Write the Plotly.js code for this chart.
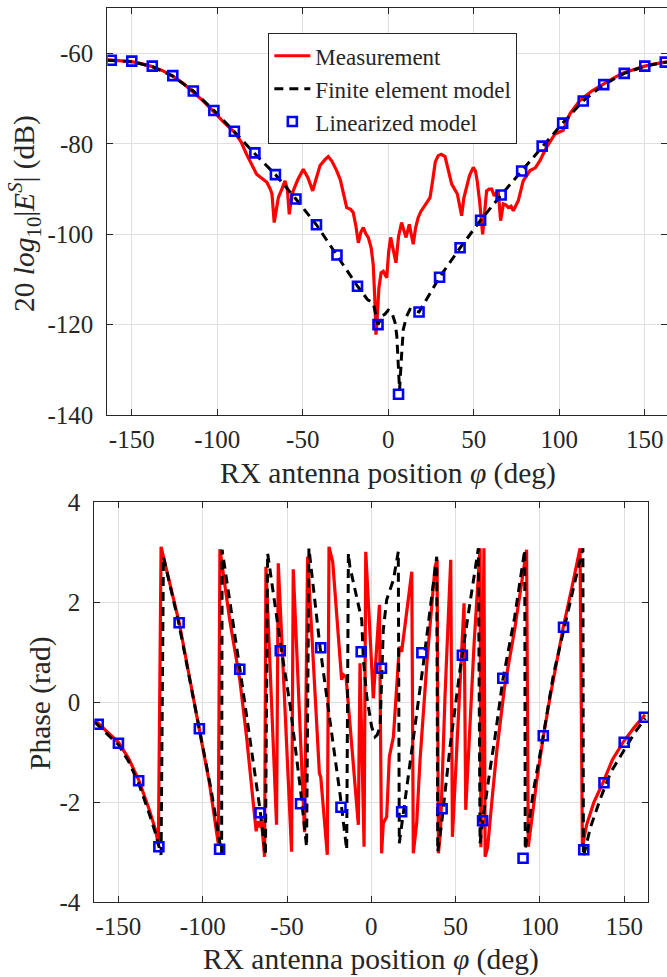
<!DOCTYPE html>
<html><head><meta charset="utf-8">
<script src="https://cdn.plot.ly/plotly-3.0.1.min.js"></script>
<style>html,body{margin:0;padding:0;background:#fff}#chart{width:667px;height:977px}</style>
</head><body><div id="chart"></div>
<script>
// ---------- Top panel: magnitude (dB) ----------
const magMeasX = [-164,-158,-150,-144,-138,-132,-126,-120,-114,-108,-102,-96,-90,-86,-83,-80,-77,-74,-71,-69,-68,-66.7,-65.5,-64.3,-62,-60.4,-59,-57.9,-56.8,-55.6,-53,-49.7,-47,-44.2,-42,-39.9,-37,-35.1,-33,-30.2,-28,-26.3,-24.3,-22,-20.5,-19,-17.5,-16,-14.6,-13,-11.7,-10,-8.8,-7.9,-7.2,-6.4,-5.5,-4.2,-2.9,-0.9,0.2,1.4,3,4.5,6,7.8,9,10.4,12.3,13.5,14.6,16,17.5,19,20.5,22.5,24.4,26,27.5,29.2,31,33.2,35,37.1,40.4,41.8,42.9,44.2,45.8,47.5,49.7,51,52,53.5,55.2,56.3,57.5,59,60.5,62,64.3,65.7,67.3,68.8,70.2,71.8,73.1,76,78.9,82.9,86,88.7,92.6,97.5,100,102.3,106.3,112.1,119,125.7,132,137.4,144,150,156,164];
const magMeasY = [-61.4,-61.6,-61.8,-62.3,-62.9,-63.8,-65.0,-66.6,-68.5,-70.6,-72.9,-75.3,-77.4,-79.6,-82.2,-84.5,-86.7,-87.6,-88.5,-90.0,-91.1,-97.4,-94,-91.9,-89.8,-88.2,-90,-95.6,-92.5,-90.4,-88,-85.6,-87.5,-90.4,-87.5,-84.8,-83.5,-82.8,-83.8,-85.9,-88,-91.1,-94.1,-94.5,-95.2,-98,-101.9,-99.5,-98.5,-100,-100.7,-103,-106.7,-114,-122.2,-118,-112,-108.5,-108.2,-109.6,-104,-100.7,-103.5,-106.3,-100.5,-97.4,-99,-100.7,-97.8,-100,-102.2,-98.5,-96.3,-95,-94.1,-92.8,-91.9,-88,-84,-82.6,-82.3,-82.8,-85.5,-88.9,-91.1,-94,-95.9,-92,-89.6,-87,-85.2,-86,-88.2,-93,-100,-95,-90.4,-90,-90,-91.5,-90.4,-97,-93.3,-93.5,-94.1,-93.8,-94.8,-92.6,-88.2,-85.9,-85.3,-83.7,-80.7,-77.8,-77.4,-77,-73.3,-70.4,-68.3,-66.7,-65.4,-64.3,-63.5,-62.8,-62.3,-61.8];

const magFemX = [-164,-150,-138,-126,-114,-102,-90,-78,-66,-54,-42,-30,-18,-12,-8.8,-6,-3.5,-2,0,2,4,5,6,6.6,7.8,8.8,10.7,12.7,18,30,42,54,66,78,90,102,114,126,138,150,164];
const magFemY = [-61.5,-61.8,-62.9,-65.0,-68.3,-72.6,-77.3,-82.2,-86.8,-92.2,-97.9,-104.6,-111.5,-114.5,-115.2,-120,-118,-117.7,-116.8,-117.2,-119.6,-122.5,-129,-134.5,-126.7,-121,-118.2,-116.6,-117.2,-109.5,-103,-96.9,-91.3,-86,-80.5,-75.4,-70.5,-66.9,-64.4,-62.8,-61.8];

const linX = [-162,-150,-138,-126,-114,-102,-90,-78,-66,-54,-42,-30,-18,-6,6,18,30,42,54,66,78,90,102,114,126,138,150,162];
const magLinY = [-61.5,-61.7,-62.8,-64.9,-68.3,-72.6,-77.2,-82.0,-86.8,-92.2,-97.9,-104.6,-111.5,-120.0,-135.4,-117.2,-109.5,-103.0,-96.9,-91.3,-86.0,-80.5,-75.4,-70.5,-66.9,-64.4,-62.8,-61.9];

// ---------- Bottom panel: phase (rad) ----------
const phMeasX = [-164,-157,-150,-144,-138,-132,-128,-126.3,-124.7,-114,-102,-96,-90.8,-89.8,-84,-78,-74,-71,-69.2,-68.3,-67.3,-66.2,-65.2,-63.3,-62.5,-56.2,-55.2,-47.3,-46.3,-39.6,-37.8,-30.8,-30.0,-26.1,-25.1,-22.9,-17.6,-16.5,-15.0,-7.7,-6.7,-4.3,-3.3,1.2,4.8,6.1,7.1,9.1,10.7,13.1,16.6,18.0,24.0,24.9,26.9,28.9,33,37.8,39.0,39.8,41.0,43.7,47.1,48.1,55.0,56.0,61,64.5,65.0,66.8,67.5,69,72,74.5,79,85,92.1,93.1,98,102,106,113.9,119,123.8,125.2,127.7,132,137.6,143,149.5,156,162.3];
const phMeasY = [-0.36,-0.58,-0.80,-1.12,-1.55,-2.12,-2.55,-2.85,3.11,1.60,-0.50,-1.62,-2.82,3.06,1.65,0.45,-0.69,-1.7,-2.35,-2.58,-2.38,-2.5,-2.35,-3.09,2.71,-2.45,2.78,-2.99,2.66,-2.6,2.91,-1.42,-1.49,-3.05,3.11,2.81,0.45,0.55,0.51,-2.45,0.78,-2.89,3.01,0.08,1.95,-3.02,-2.42,-2.29,-1.09,-0.69,1.11,1.01,2.61,-3.02,-2.42,-1.15,0.8,2.71,2.85,-3.02,-2.6,0.11,2.85,-2.69,1.98,-2.15,1.2,3.08,-2.9,3.08,-3.09,-2.9,-1.8,-0.95,0.3,1.45,3.05,-2.89,-1.6,-0.69,0.1,1.51,2.3,3.08,-2.89,-2.45,-2.0,-1.59,-1.15,-0.79,-0.5,-0.25];

const phFemX = [-164,-157,-150,-144,-138,-132,-128,-124.7,-123.3,-114,-102,-95,-88.8,-88.5,-78,-72,-66,-62.8,-61.5,-54,-48,-42,-38.4,-37.0,-30.4,-24,-18.5,-14.6,-13.6,-12.7,-8.7,-5.7,-4.7,-2.7,0.2,2.2,3.5,5.2,7.1,9.1,13.1,16.0,16.6,23,26.9,30.9,35.8,38.8,39.4,41.7,46.7,52.6,58.5,63.5,64.5,66.4,70.4,73.4,78,85,91.0,91.3,96,102,108,114,120,125.5,125.8,130,135.6,142,150,156,162.5];
const phFemY = [-0.40,-0.62,-0.85,-1.18,-1.62,-2.2,-2.62,-3.05,2.91,1.55,-0.55,-1.75,-3.02,3.05,0.68,-0.7,-2.15,-3.05,2.98,1.2,-0.1,-1.75,-2.89,3.08,1.1,-0.5,-1.85,-2.95,2.98,2.71,2.11,1.65,0.85,0.11,-0.49,-0.69,-0.65,-0.49,1.45,2.05,2.45,3.01,-2.82,-1.22,-0.22,0.78,2.11,2.91,-2.99,-2.42,-0.89,0.65,1.98,3.08,-2.82,-2.29,-1.35,-0.69,0.45,1.7,3.05,-2.95,-1.8,-0.67,0.55,1.45,2.3,3.08,-3.09,-2.5,-1.95,-1.4,-0.95,-0.62,-0.32];

const phLinY = [-0.44,-0.82,-1.57,-2.89,1.59,-0.53,-2.94,0.66,-2.21,1.03,-2.03,1.09,-2.10,1.01,0.68,-2.19,0.99,-2.13,0.94,-2.37,0.48,-3.12,-0.67,1.50,-2.95,-1.61,-0.80,-0.30];

const xTicks = [-150,-100,-50,0,50,100,150];
const xTickText = ['-150','-100','-50','0','50','100','150'];
const magTicks = [-140,-120,-100,-80,-60];
const magTickText = ['-140','-120','-100','-80','-60'];
const phTicks = [-4,-2,0,2,4];
const phTickText = ['-4','-2','0','2','4'];

const names = ['Measurement','Finite element model','Linearized model'];
const xTitle = 'RX antenna position <i>φ</i> (deg)';
const magTitle = '20 <i>log</i><sub>10</sub>|<i>E</i><sup><i>S</i></sup>| (dB)';
const phTitle = 'Phase (rad)';

const RED = '#ff0000', BLK = '#000000', BLU = '#0000ff';
const FONT = 'Liberation Serif, Times New Roman, serif';
const TXT = '#262626';

const traces = [
  {x: magMeasX, y: magMeasY, xaxis:'x', yaxis:'y', mode:'lines', name:names[0], line:{color:RED, width:3.2}},
  {x: magFemX, y: magFemY, xaxis:'x', yaxis:'y', mode:'lines', name:names[1], line:{color:BLK, width:3, dash:'9px,6px'}},
  {x: linX, y: magLinY, xaxis:'x', yaxis:'y', mode:'markers', name:names[2], marker:{symbol:'square-open', size:9, color:BLU, line:{width:2.6, color:BLU}}},
  {x: phMeasX, y: phMeasY, xaxis:'x2', yaxis:'y2', mode:'lines', name:names[0], showlegend:false, line:{color:RED, width:3.2}},
  {x: phFemX, y: phFemY, xaxis:'x2', yaxis:'y2', mode:'lines', name:names[1], showlegend:false, line:{color:BLK, width:3, dash:'9px,6px'}},
  {x: linX, y: phLinY, xaxis:'x2', yaxis:'y2', mode:'markers', name:names[2], showlegend:false, marker:{symbol:'square-open', size:9, color:BLU, line:{width:2.6, color:BLU}}}
];

const axCommon = {
  showgrid:true, gridcolor:'#dfdfdf', gridwidth:1, zeroline:false,
  showline:true, linecolor:TXT, linewidth:1, mirror:'ticks',
  ticks:'inside', ticklen:6, tickcolor:TXT, tickwidth:1,
  tickfont:{family:FONT, size:25, color:TXT}, automargin:false, tickmode:'array'
};

const titleFont = {family:FONT, size:29.5, color:TXT};

const layout = {
  width:667, height:977,
  margin:{l:0, r:0, t:0, b:0},
  paper_bgcolor:'#ffffff', plot_bgcolor:'#ffffff',
  font:{family:FONT, color:TXT},
  showlegend:true,
  legend:{x:0.4023, y:0.9659, xanchor:'left', yanchor:'top', bgcolor:'#ffffff', bordercolor:TXT, borderwidth:1,
          font:{family:FONT, size:23, color:TXT}, tracegroupgap:0, itemwidth:36},
  xaxis: Object.assign({}, axCommon, {domain:[0.1609, 1], range:[-164.3, 163.0], anchor:'y',
          tickvals:xTicks, ticktext:xTickText, ticklabelstandoff:2}),
  yaxis: Object.assign({}, axCommon, {domain:[0.5752, 0.9915], range:[-140, -50], anchor:'x',
          tickvals:magTicks, ticktext:magTickText, ticklabelstandoff:8}),
  xaxis2: Object.assign({}, axCommon, {domain:[0.1414, 0.972], range:[-164.3, 164.3], anchor:'y2',
          tickvals:xTicks, ticktext:xTickText, ticklabelstandoff:2}),
  yaxis2: Object.assign({}, axCommon, {domain:[0.07646, 0.4859], range:[-4, 4], anchor:'x2',
          tickvals:phTicks, ticktext:phTickText, ticklabelstandoff:8}),
  annotations: [
    {text:xTitle, xref:'x', x:0, yref:'paper', y:1-473/977, xanchor:'center', yanchor:'middle', showarrow:false, font:titleFont},
    {text:xTitle, xref:'x2', x:0, yref:'paper', y:1-959/977, xanchor:'center', yanchor:'middle', showarrow:false, font:titleFont},
    {text:magTitle, xref:'paper', x:25/667, yref:'paper', y:1-214/977, xanchor:'center', yanchor:'middle', textangle:-90, showarrow:false, font:titleFont},
    {text:phTitle, xref:'paper', x:40/667, yref:'paper', y:1-703/977, xanchor:'center', yanchor:'middle', textangle:-90, showarrow:false, font:titleFont}
  ]
};

Plotly.newPlot('chart', traces, layout, {displayModeBar:false, staticPlot:true});
</script>
</body></html>
